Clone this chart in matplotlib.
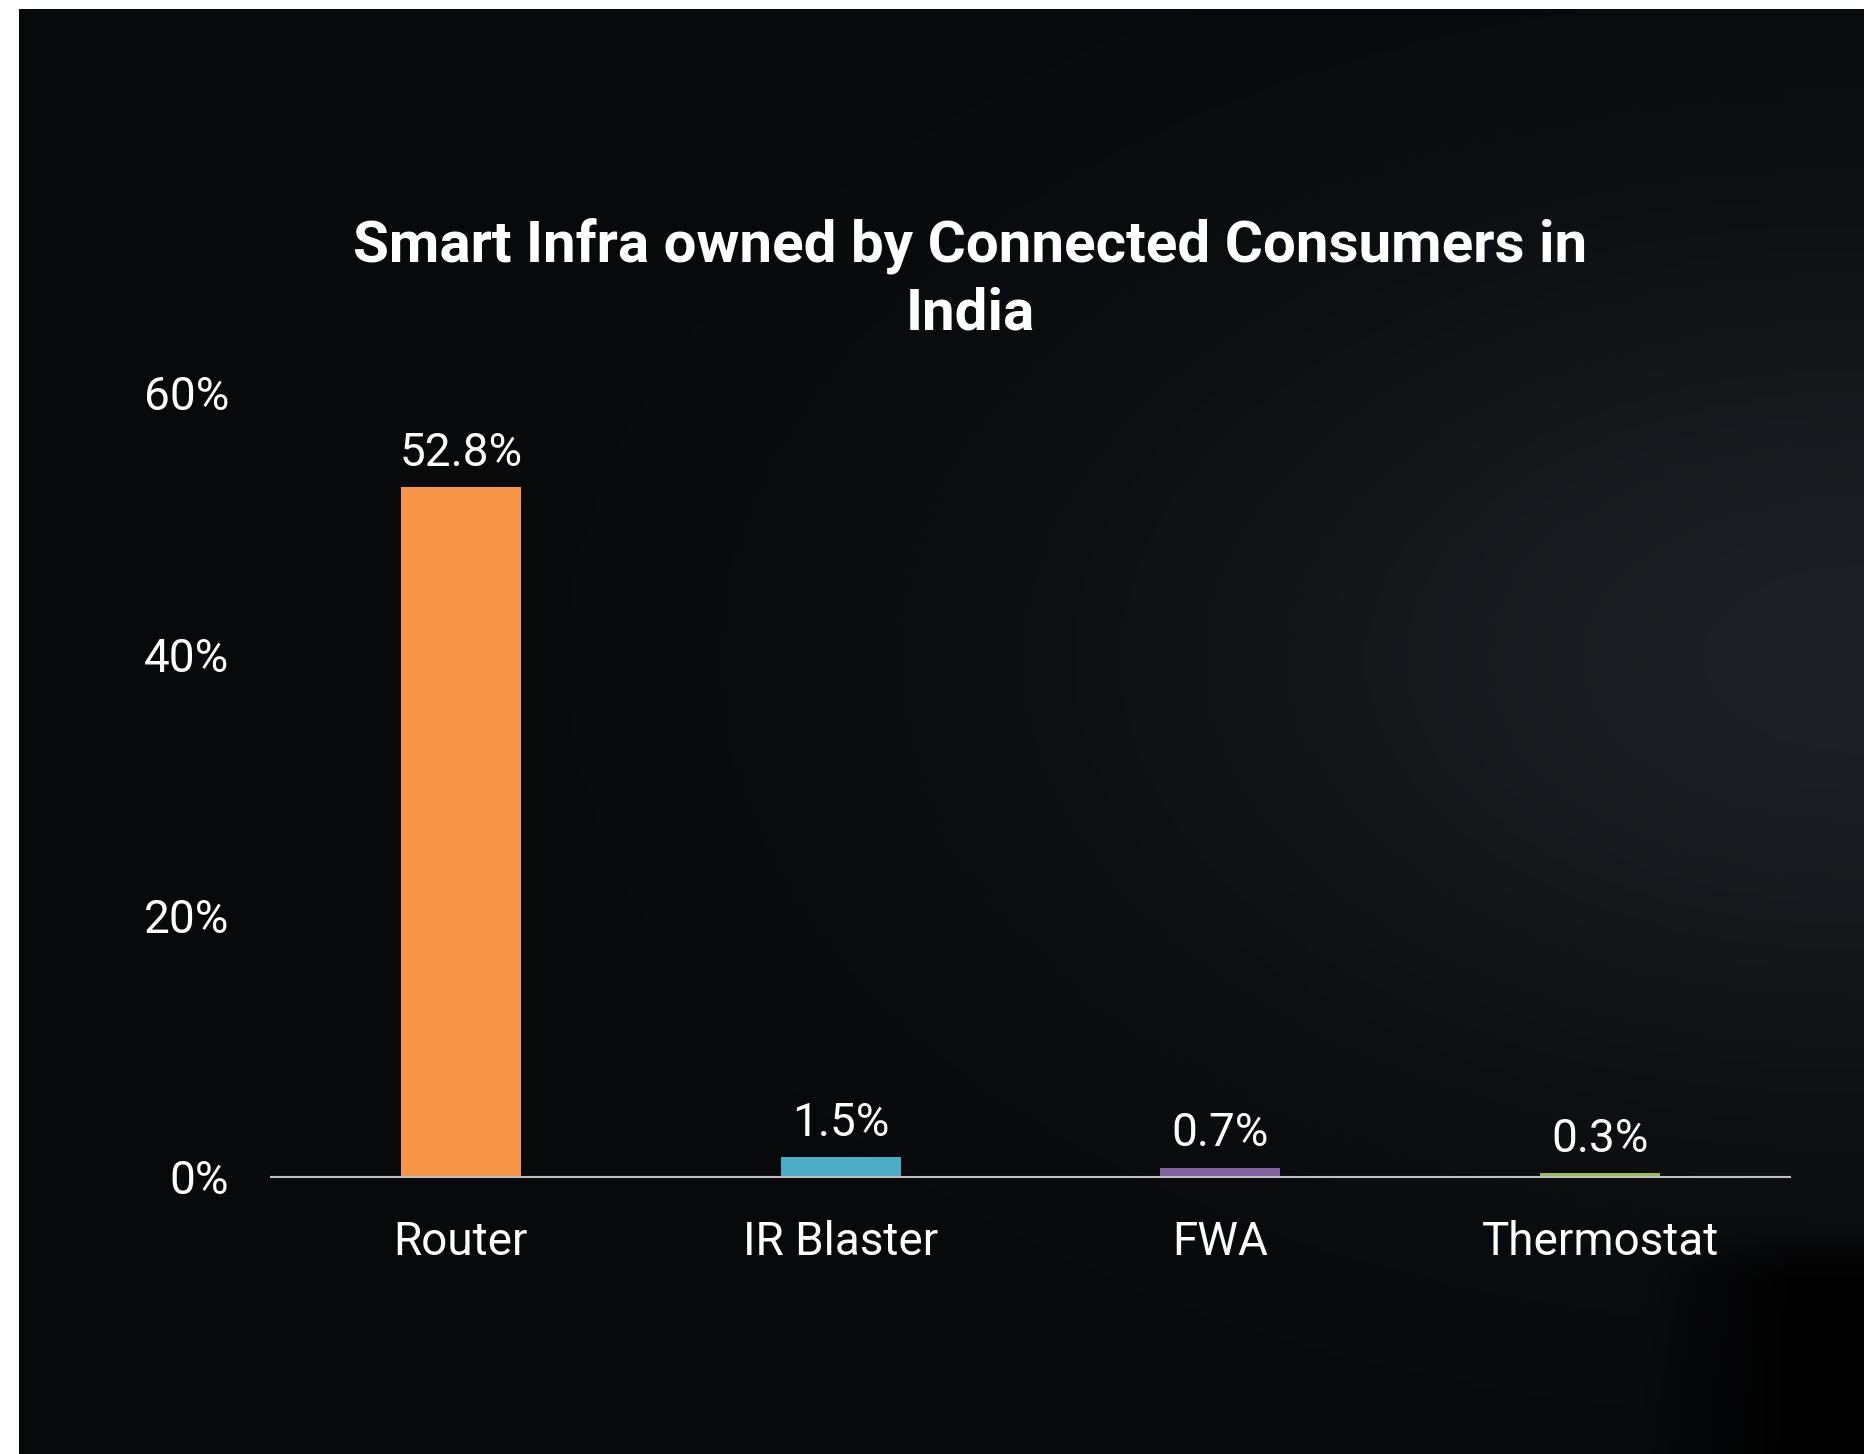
import numpy as np
import matplotlib
matplotlib.use("Agg")
import matplotlib.pyplot as plt

# Data
categories = ["Router", "IR Blaster", "FWA", "Thermostat"]
shares = [52.8, 1.5, 0.7, 0.3]
bar_colors = ["#F79646", "#4BACC6", "#8064A2", "#9BBB59"]
y_ticks = [0, 20, 40, 60]
title = "Smart Infra owned by Connected Consumers in\nIndia"

plt.rcParams["font.family"] = ["Roboto", "DejaVu Sans"]

W, H = 1864, 1454
fig = plt.figure(figsize=(W / 100, H / 100), dpi=100, facecolor="white")

# Dark slide background with a soft glow on the right
bg = fig.add_axes([19 / W, 0, 1 - 19 / W, 1 - 9 / H])
bg.set_axis_off()
gx, gy = np.meshgrid(np.linspace(0, 1, 400), np.linspace(0, 1, 320))
glow = np.exp(-(((gx - 1.0) / 0.4) ** 2 + ((gy - 0.45) / 0.3) ** 2))
shade = np.clip((gx - 0.88) / 0.08, 0, 1) * np.clip((gy - 0.84) / 0.04, 0, 1)
base = np.array([8, 9, 11]) / 255
top = np.array([30, 31, 36]) / 255
img = base + glow[..., None] * (top - base)
img = img * (1 - 0.85 * shade[..., None])
bg.imshow(img, aspect="auto", extent=[0, 1, 1, 0])

ax = fig.add_axes([271 / W, 1 - 1177 / H, (1790 - 271) / W, (1177 - 393) / H])
ax.patch.set_alpha(0)

x = np.arange(len(categories))
bars = ax.bar(x, shares, width=0.316, color=bar_colors)
for b, v in zip(bars, shares):
    ax.annotate(f"{v:.1f}%", (b.get_x() + b.get_width() / 2, v),
                xytext=(0, 9), textcoords="offset points",
                ha="center", va="bottom", color="white", fontsize=33)

ax.set_xlim(-0.5, len(categories) - 0.5)
ax.set_ylim(0, 60)
ax.set_yticks(y_ticks)
ax.set_yticklabels([f"{t}%" for t in y_ticks])
ax.set_xticks(x)
ax.set_xticklabels(categories)
ax.tick_params(axis="both", length=0, colors="white", labelsize=33)
ax.tick_params(axis="y", pad=30)
ax.tick_params(axis="x", pad=31)
for s in ["top", "right", "left"]:
    ax.spines[s].set_visible(False)
ax.spines["bottom"].set_color("#BFBFBF")
ax.spines["bottom"].set_linewidth(1.5)

fig.text(970 / W, 1 - 279.5 / H, title, ha="center", va="center",
         color="white", fontsize=42, fontweight="bold", linespacing=1.3)

fig.savefig("out.png", dpi=100, facecolor=fig.get_facecolor())
